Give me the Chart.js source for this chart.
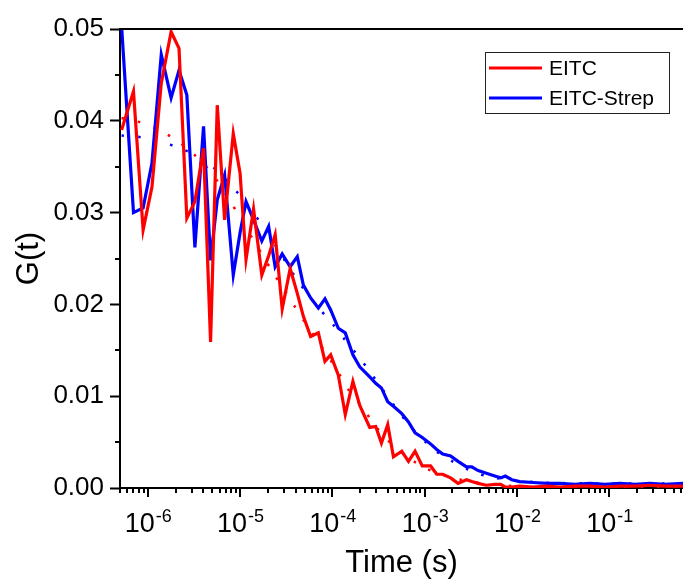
<!DOCTYPE html>
<html><head><meta charset="utf-8">
<script src="https://cdn.jsdelivr.net/npm/chart.js@4/dist/chart.umd.min.js"></script>
<style>html,body{margin:0;padding:0;background:#fff;}#wrap{width:683px;height:580px;}</style>
</head><body><div id="wrap"><canvas id="c" width="683" height="580"></canvas></div>
<script>
// ---- data ----
const timeS = [5.2e-7, 7.0e-7, 8.9e-7, 1.11e-6, 1.40e-6, 1.79e-6, 2.18e-6, 2.65e-6, 3.24e-6, 4.02e-6,
  4.79e-6, 5.66e-6, 6.80e-6, 8.44e-6, 1.0e-5, 1.16e-5, 1.40e-5, 1.72e-5, 2.04e-5, 2.40e-5,
  2.86e-5, 3.49e-5, 4.17e-5, 4.85e-5, 5.82e-5, 7.05e-5, 8.31e-5, 9.59e-5, 1.16e-4, 1.38e-4,
  1.67e-4, 1.98e-4, 2.54e-4, 2.95e-4, 3.40e-4, 3.98e-4, 4.59e-4, 5.65e-4, 6.68e-4, 7.87e-4,
  9.42e-4, 1.16e-3, 1.35e-3, 1.57e-3, 1.91e-3, 2.30e-3, 2.84e-3, 3.24e-3, 3.80e-3, 4.66e-3,
  5.75e-3, 6.68e-3, 7.48e-3, 8.80e-3, 1.07e-2, 1.49e-2, 2.11e-2, 2.92e-2, 4.25e-2, 6.18e-2,
  8.98e-2, 0.131, 0.190, 0.276, 0.402, 0.63];
const eitc = [0.0390, 0.0432, 0.0281, 0.0328, 0.0441, 0.0497, 0.0479, 0.0294, 0.0312, 0.0370,
  0.0159, 0.0417, 0.0292, 0.0386, 0.0343, 0.0249, 0.0304, 0.0232, 0.0253, 0.0276,
  0.0195, 0.0239, 0.0212, 0.0187, 0.0165, 0.0169, 0.0138, 0.0145, 0.0123, 0.0080,
  0.0116, 0.0090, 0.0066, 0.0067, 0.0049, 0.0069, 0.0034, 0.0040, 0.0029, 0.0040,
  0.0024, 0.0024, 0.0015, 0.0015, 0.0011, 0.0005, 0.0009, 0.0007, 0.0005, 0.0003,
  0.0004, 0.0004, 0.0001, 0.0001, 0.0002, 0.0001, 0.0002, 0.0001, 0.0002, 0.0002,
  0.0001, 0.0002, 0.0002, 0.0003, 0.0002, 0.0002];
const eitcStrep = [0.0503, 0.0300, 0.0305, 0.0354, 0.0472, 0.0425, 0.0455, 0.0428, 0.0262, 0.0394,
  0.0248, 0.0314, 0.0341, 0.0232, 0.0278, 0.0312, 0.0292, 0.0269, 0.0285, 0.0241,
  0.0255, 0.0241, 0.0252, 0.0221, 0.0207, 0.0196, 0.0206, 0.0194, 0.0174, 0.0169,
  0.0145, 0.0132, 0.0121, 0.0114, 0.0109, 0.0094, 0.0089, 0.0081, 0.0072, 0.0060,
  0.0055, 0.0048, 0.0042, 0.0037, 0.0035, 0.0029, 0.0023, 0.0023, 0.0019, 0.0016,
  0.0013, 0.0011, 0.0013, 0.0009, 0.0007, 0.0006, 0.0005, 0.0005, 0.0004, 0.0005,
  0.0004, 0.0005, 0.0004, 0.0005, 0.0004, 0.0005];
const fitTimeEitc = [5.2e-7, 8.5e-7, 1.32e-6, 2.03e-6, 2.96e-6, 4.3e-6, 6.0e-6, 7.83e-6, 1.03e-5, 1.32e-5,
  1.72e-5, 2.23e-5, 2.96e-5, 3.84e-5, 5.07e-5, 6.84e-5, 9.18e-5, 1.19e-4, 1.54e-4, 2.12e-4,
  2.8e-4, 3.91e-4, 5.37e-4, 1.0e-3, 2.02e-3, 5.08e-3, 1.0e-2, 4.3e-2, 0.63];
const fitEitc = [0.0403, 0.0398, 0.0390, 0.0379, 0.0366, 0.0350, 0.0331, 0.0312, 0.0293, 0.0274,
  0.0255, 0.0236, 0.0217, 0.0199, 0.0180, 0.0161, 0.0142, 0.0124, 0.0105, 0.0088,
  0.0070, 0.0053, 0.0040, 0.0022, 0.0011, 0.0004, 0.0002, 0.0001, 0.0001];
const fitTimeStrep = [5.2e-7, 8.6e-7, 1.4e-6, 2.26e-6, 3.57e-6, 5.07e-6, 9.9e-6, 1.8e-5, 3.9e-5, 6.0e-5,
  1.0e-4, 1.38e-4, 1.86e-4, 2.54e-4, 3.4e-4, 4.59e-4, 7.0e-4, 1.26e-3, 1.92e-3, 3.13e-3,
  5.08e-3, 8.38e-3, 1.77e-2, 7.9e-2, 0.63];
const fitStrep = [0.0384, 0.0382, 0.0377, 0.0370, 0.0361, 0.0350, 0.0319, 0.0284, 0.0231, 0.0205,
  0.0179, 0.0161, 0.0145, 0.0127, 0.0109, 0.0091, 0.0067, 0.0042, 0.0030, 0.0019,
  0.0012, 0.0009, 0.0006, 0.0005, 0.0005];
const seriesNames = ['EITC', 'EITC-Strep'];
const yTickValues = [0, 0.01, 0.02, 0.03, 0.04, 0.05];
const yMinorValues = [0.005, 0.015, 0.025, 0.035, 0.045];
const xDecadeExponents = [-6, -5, -4, -3, -2, -1];
const xMin = 5e-7, xMax = 0.63;

// ---- drawing ----
const FONT = "'Liberation Sans', Arial, sans-serif";
const RED = '#ff0000', BLUE = '#0000ff';
const pts = (xs, ys) => xs.map((x, i) => ({x: x, y: ys[i]}));

const overlay = {
  id: 'overlay',
  afterDraw(chart) {
    const ctx = chart.ctx, ca = chart.chartArea;
    const xs = chart.scales.x, ys = chart.scales.y;
    ctx.save();
    ctx.strokeStyle = '#000';
    ctx.lineWidth = 2;
    // top frame line
    ctx.beginPath();
    ctx.moveTo(ca.left - 1, ca.top); ctx.lineTo(ca.right, ca.top);
    ctx.stroke();
    // y minor ticks
    ctx.beginPath();
    yMinorValues.forEach(v => {
      const y = Math.round(ys.getPixelForValue(v));
      ctx.moveTo(ca.left - 5, y); ctx.lineTo(ca.left, y);
    });
    ctx.stroke();
    // x ticks (major + minor)
    ctx.beginPath();
    for (let e = -7; e <= 0; e++) {
      for (let m = 1; m <= 9; m++) {
        const v = m * Math.pow(10, e);
        if (v < xMin * 0.999 || v > xMax) continue;
        const x = Math.round(xs.getPixelForValue(v));
        const len = (m === 1) ? 9 : 5;
        ctx.moveTo(x, ca.bottom); ctx.lineTo(x, ca.bottom + len);
      }
    }
    ctx.stroke();
    // x labels 10^n
    ctx.fillStyle = '#000';
    ctx.textBaseline = 'alphabetic';
    ctx.textAlign = 'left';
    xDecadeExponents.forEach(e => {
      const px = xs.getPixelForValue(Math.pow(10, e));
      ctx.font = '27px ' + FONT;
      const w1 = ctx.measureText('10').width;
      ctx.font = '18px ' + FONT;
      const sup = '-' + Math.abs(e);
      const w2 = ctx.measureText(sup).width;
      const x0 = px - (w1 + w2) / 2;
      ctx.font = '27px ' + FONT;
      ctx.fillText('10', x0, 532);
      ctx.font = '18px ' + FONT;
      ctx.fillText(sup, x0 + w1 + 1, 522);
    });
    // legend
    const lx = 485.5, ly = 52.5, lw = 184, lh = 61;
    ctx.lineWidth = 1;
    ctx.strokeStyle = '#222';
    ctx.strokeRect(lx, ly, lw, lh);
    const items = [{t: seriesNames[0], c: RED, y: 68}, {t: seriesNames[1], c: BLUE, y: 98}];
    ctx.font = '21px ' + FONT;
    ctx.textBaseline = 'middle';
    items.forEach(it => {
      ctx.strokeStyle = it.c; ctx.lineWidth = 3;
      ctx.beginPath(); ctx.moveTo(489, it.y); ctx.lineTo(542, it.y); ctx.stroke();
      ctx.fillStyle = '#000';
      ctx.fillText(it.t, 549, it.y + 1);
    });
    ctx.restore();
  }
};

new Chart(document.getElementById('c'), {
  type: 'line',
  data: {
    datasets: [
      {label: seriesNames[0], data: pts(timeS, eitc), borderColor: RED, borderWidth: 3.2, pointRadius: 0, tension: 0, fill: false, order: 1},
      {label: seriesNames[1], data: pts(timeS, eitcStrep), borderColor: BLUE, borderWidth: 3.2, pointRadius: 0, tension: 0, fill: false, order: 2},
      {label: seriesNames[0] + ' fit', data: pts(fitTimeEitc, fitEitc), borderColor: RED, borderWidth: 2.5, borderDash: [2.5, 14], pointRadius: 0, tension: 0.3, fill: false, order: 3},
      {label: seriesNames[1] + ' fit', data: pts(fitTimeStrep, fitStrep), borderColor: BLUE, borderWidth: 2.5, borderDash: [2.5, 14], pointRadius: 0, tension: 0.3, fill: false, order: 4}
    ]
  },
  options: {
    responsive: false,
    animation: false,
    devicePixelRatio: 1,
    layout: {padding: {top: 29, right: 0, bottom: 0, left: 0}},
    plugins: {legend: {display: false}, tooltip: {enabled: false}},
    scales: {
      x: {
        type: 'logarithmic', position: 'bottom', min: xMin, max: xMax,
        ticks: {display: false},
        grid: {display: false},
        border: {display: true, color: '#000', width: 2},
        title: {display: true, text: 'Time (s)', color: '#000', font: {family: FONT, size: 31}, padding: {top: 0, bottom: -2}},
        afterFit(s) { s.height = 92; }
      },
      y: {
        min: 0, max: 0.05,
        afterBuildTicks(s) { s.ticks = yTickValues.map(v => ({value: v})); },
        ticks: {color: '#000', font: {family: FONT, size: 26}, padding: 6, callback: v => Number(v).toFixed(2)},
        grid: {display: true, drawOnChartArea: false, drawTicks: true, tickLength: 10, tickWidth: 2, tickColor: '#000'},
        border: {display: true, color: '#000', width: 2},
        title: {display: true, text: 'G(t)', color: '#000', font: {family: FONT, size: 31}, padding: {top: 11, bottom: 0}},
        afterFit(s) { s.width = 120; }
      }
    }
  },
  plugins: [overlay]
});
</script>
</body></html>
